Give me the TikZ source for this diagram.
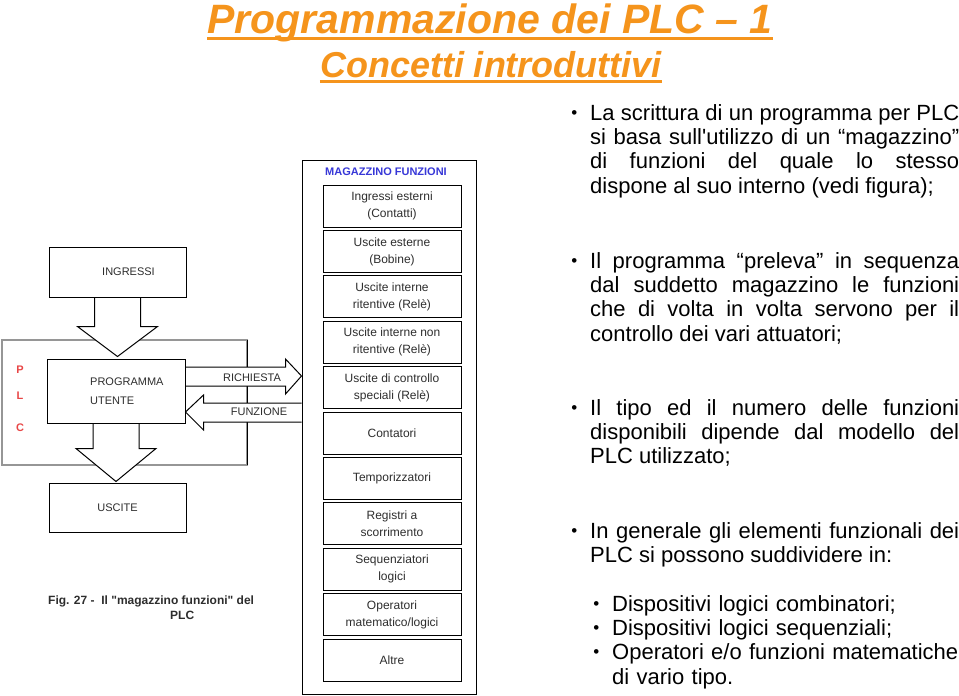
\documentclass[tikz,border=0pt]{standalone}
\usepackage{fontspec}
\setmainfont{Liberation Sans}[Ligatures=TeXOff]
\usetikzlibrary{calc,positioning,backgrounds}

\definecolor{plcorange}{RGB}{245,148,28}
\definecolor{magblue}{RGB}{55,55,215}
\definecolor{diagtext}{RGB}{45,45,45}
\definecolor{plcred}{RGB}{232,70,70}
\definecolor{framegray}{RGB}{150,150,150}

\newcommand{\blt}{\leavevmode\llap{\raisebox{2pt}{\fontsize{17}{17}\selectfont\textbullet}\hspace{13pt}}}

\tikzset{
  blk/.style={rectangle, draw, line width=1pt, minimum width=137pt, inner sep=0pt},
  item/.style={rectangle, draw, line width=1pt, minimum width=138pt, minimum height=42pt, align=center, font=\fontsize{12}{17}\selectfont, text=diagtext, inner sep=0pt},
  blockarr/.style={draw, fill=white, line width=1pt, line join=miter},
  lbl/.style={font=\fontsize{11}{19}\selectfont, text=diagtext, inner sep=0pt},
  para/.style={anchor=north west, text width=369pt, align=justify, inner sep=0pt, font=\fontsize{22}{24.4}\selectfont}
}

\begin{document}
\begin{tikzpicture}[x=1pt,y=-1pt]
  \useasboundingbox (0,0) rectangle (959,696);

  % title
  \node[font=\fontsize{41}{41}\selectfont\bfseries\itshape, text=plcorange, inner sep=0pt, anchor=base] (title) at (490,34) {Programmazione dei PLC – 1};
  \node[font=\fontsize{36}{36}\selectfont\bfseries\itshape, text=plcorange, inner sep=0pt, anchor=base] (subtitle) at (491,77) {Concetti introduttivi};
  \draw[plcorange, line width=2.2pt] ($(title.base west)+(0,4.5)$) -- ($(title.base east)+(0,4.5)$);
  \draw[plcorange, line width=2.2pt] ($(subtitle.base west)+(0,4.5)$) -- ($(subtitle.base east)+(0,4.5)$);

  % PLC blocks
  \node[blk, minimum height=50pt] (ingressi) at (117.5,272) {};
  \node[lbl] (ingressitxt) at ($(ingressi.center)+(11,0)$) {INGRESSI};
  \node[blk, minimum width=138pt, minimum height=64pt] (prog) at (116,391) {};
  \node[lbl, anchor=west, align=left] (progtxt) at (90,391) {PROGRAMMA\\UTENTE};
  \node[blk, minimum height=49pt] (uscite) at (117.5,507.5) {};
  \node[lbl] (uscitetxt) at (uscite.center) {USCITE};
  \foreach \ch/\y in {P/370, L/396, C/428}
    \node[text=plcred, font=\fontsize{11}{11}\selectfont\bfseries, inner sep=0pt] (plc\ch) at (20,\y) {\ch};

  % magazzino funzioni
  \node[draw, line width=1pt, minimum width=174pt, minimum height=534pt, inner sep=0pt] (mag) at (389,427) {};
  \node[font=\fontsize{11}{11}\selectfont\bfseries, text=magblue, inner sep=0pt] (magtitle) at (386,172) {MAGAZZINO FUNZIONI};
  \foreach \txt [count=\i] in {{Ingressi esterni\\(Contatti)}, {Uscite esterne\\(Bobine)},
      {Uscite interne\\ritentive (Relè)}, {Uscite interne non\\ritentive (Relè)},
      {Uscite di controllo\\speciali (Relè)}, {Contatori}, {Temporizzatori},
      {Registri a\\scorrimento}, {Sequenziatori\\logici}, {Operatori\\matematico/logici}, {Altre}}
    \node[item] (it\i) at (392,{160.6+45.4*\i}) {\txt};

  \node[lbl] (rqtxt) at (252,378) {RICHIESTA};
  \node[lbl] (fntxt) at (259,412) {FUNZIONE};

  \node[font=\fontsize{12}{15}\selectfont\bfseries, text=diagtext, align=left, inner sep=0pt, anchor=north west] (caption) at (48,596) {Fig. 27 -~~Il "magazzino funzioni" del\\\hspace*{122pt}PLC};

  \begin{scope}[on background layer]
    \draw[framegray, line width=1.2pt] (2,340) rectangle (247,465);
    \draw[line width=1pt] (247,340) -- (247,465);
    % ingressi -> programma
    \draw[blockarr] ($(ingressi.south)+(-23,0)$) -- ++(0,29) -- ++(-17,0)
      -- ($(ingressi.south |- prog.north)+(0,-2)$) -- ($(ingressi.south)+(40,29)$)
      -- ++(-17,0) -- ($(ingressi.south)+(23,0)$);
    % programma -> uscite
    \draw[blockarr] ($(prog.south)+(-23,0)$) -- ++(0,25) -- ++(-17,0)
      -- ($(prog.south |- uscite.north)+(0,-1)$) -- ($(prog.south)+(40,25)$)
      -- ++(-17,0) -- ($(prog.south)+(23,0)$);
    % richiesta
    \draw[blockarr] ($(prog.east)+(0,-24)$) -- ++(100,0) -- ++(0,-8)
      -- ($(prog.east -| mag.west)+(0,-15)$) -- ($(prog.east)+(100,3)$)
      -- ++(0,-8) -- ($(prog.east)+(0,-5)$);
    % funzione
    \draw[blockarr] ($(prog.east -| mag.west)+(0,12)$) -- ($(prog.east)+(18,12)$) -- ++(0,-8)
      -- ($(prog.east)+(0,21)$) -- ($(prog.east)+(18,39)$)
      -- ++(0,-8) -- ($(prog.east -| mag.west)+(0,31)$);
  \end{scope}

  % testo a destra
  \node[para] (p1) at (590,104) {\noindent\blt La scrittura di un programma per PLC\linebreak
    si basa sull'utilizzo di un “magazzino”\linebreak
    di funzioni del quale lo stesso\linebreak
    dispone al suo interno (vedi figura);};
  \node[para] (p2) at (590,252) {\noindent\blt Il programma “preleva” in sequenza\linebreak
    dal suddetto magazzino le funzioni\linebreak
    che di volta in volta servono per il\linebreak
    controllo dei vari attuatori;};
  \node[para] (p3) at (590,399) {\noindent\blt Il tipo ed il numero delle funzioni\linebreak
    disponibili dipende dal modello del\linebreak
    PLC utilizzato;};
  \node[para] (p4) at (590,522) {\noindent\blt In generale gli elementi funzionali dei\linebreak
    PLC si possono suddividere in:};
  \node[para, text width=347pt, align=left] (sub) at (612,595) {\blt Dispositivi logici combinatori;\\
    \blt Dispositivi logici sequenziali;\\
    \blt Operatori e/o funzioni matematiche\\
    di vario tipo.};
\end{tikzpicture}
\end{document}
